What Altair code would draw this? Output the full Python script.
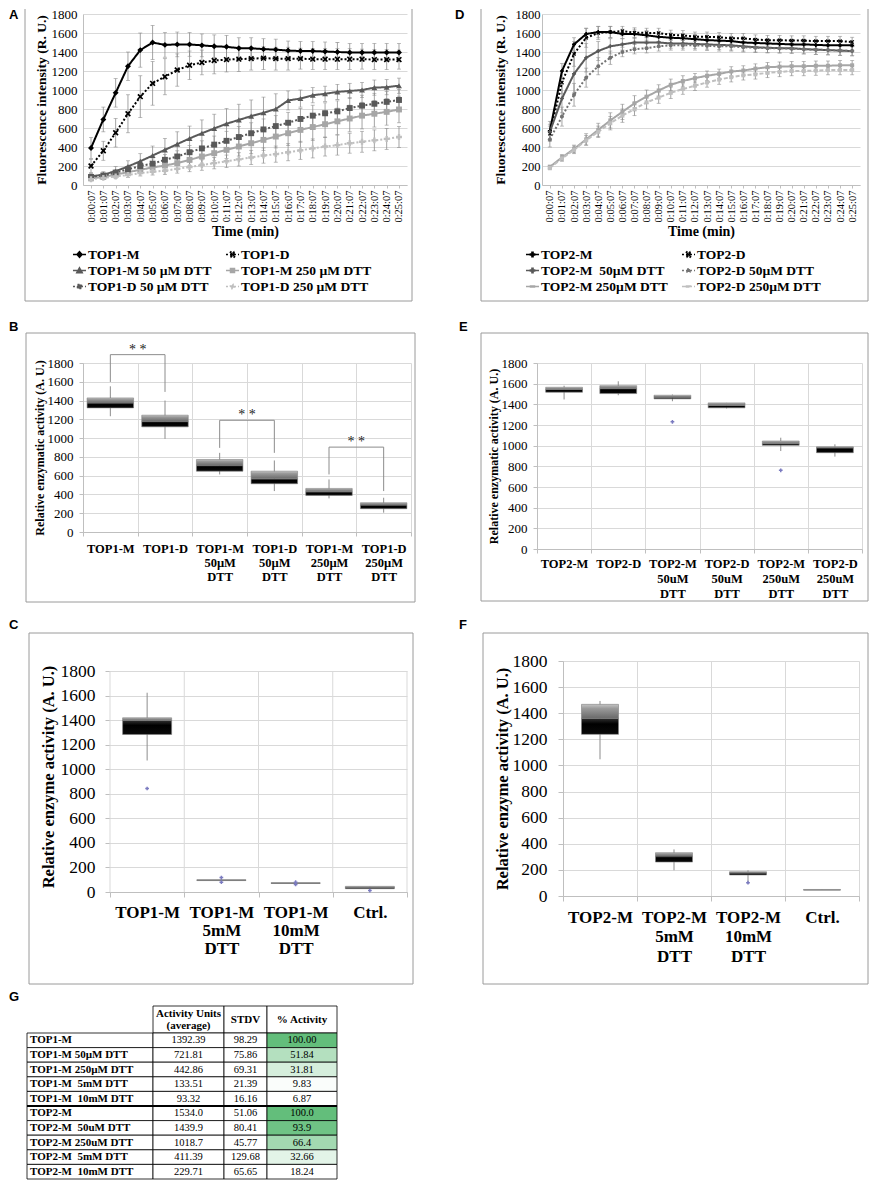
import altair as alt
import pandas as pd

SERIF = "Liberation Serif"
SANS = "Liberation Sans"
GRID = "#d9d9d9"
AXC = "#bfbfbf"
FRAME = "#9a9a9a"
ERRC = "#8c8c8c"
ONE = pd.DataFrame({"k": [0]})

time_labels = ["0:00:07", "0:01:07", "0:02:07", "0:03:07", "0:04:07", "0:05:07", "0:06:07",
               "0:07:07", "0:08:07", "0:09:07", "0:10:07", "0:11:07", "0:12:07", "0:13:07",
               "0:14:07", "0:15:07", "0:16:07", "0:17:07", "0:18:07", "0:19:07", "0:20:07",
               "0:21:07", "0:22:07", "0:23:07", "0:24:07", "0:25:07"]

# ---------------- Panel A ----------------
a_names = ["TOP1-M", "TOP1-D", "TOP1-M 50 µM DTT", "TOP1-M 250 µM DTT", "TOP1-D 50 µM DTT", "TOP1-D 250 µM DTT"]
a_legend_order = ["TOP1-M", "TOP1-M 50 µM DTT", "TOP1-D 50 µM DTT", "TOP1-D", "TOP1-M 250 µM DTT", "TOP1-D 250 µM DTT"]
a_top1_m = [390, 690, 970, 1250, 1420, 1500, 1475, 1480, 1480, 1470, 1460, 1455, 1440, 1440, 1430, 1425, 1415, 1410, 1410, 1405, 1400, 1395, 1395, 1395, 1395, 1395]
a_top1_d = [200, 360, 550, 750, 930, 1070, 1140, 1210, 1260, 1290, 1310, 1320, 1325, 1330, 1335, 1330, 1330, 1330, 1325, 1325, 1325, 1325, 1325, 1320, 1320, 1320]
a_top1_m50 = [90, 110, 145, 195, 250, 310, 370, 430, 490, 545, 595, 645, 685, 725, 760, 800, 890, 910, 945, 960, 980, 990, 1000, 1025, 1030, 1045]
a_top1_m250 = [70, 85, 110, 135, 160, 185, 205, 230, 265, 300, 335, 370, 405, 440, 475, 510, 545, 580, 610, 640, 670, 700, 730, 750, 770, 795]
a_top1_d50 = [85, 100, 130, 165, 200, 225, 265, 300, 345, 385, 425, 465, 505, 545, 585, 620, 655, 695, 730, 755, 775, 810, 835, 855, 875, 895]
a_top1_d250 = [60, 75, 90, 105, 125, 140, 150, 170, 190, 210, 230, 250, 270, 290, 310, 325, 345, 365, 385, 405, 420, 440, 455, 470, 485, 505]
a_top1_m_err = [110, 130, 150, 150, 180, 180, 130, 130, 125, 120, 120, 120, 110, 110, 110, 110, 100, 100, 100, 100, 100, 95, 95, 95, 95, 95]
a_top1_d_err = [70, 100, 150, 200, 220, 230, 190, 170, 150, 130, 140, 130, 130, 120, 120, 120, 120, 110, 110, 110, 110, 110, 105, 105, 105, 100]
a_top1_m50_err = [30, 30, 50, 60, 80, 100, 120, 130, 130, 140, 150, 160, 165, 170, 165, 160, 100, 90, 80, 80, 80, 80, 80, 80, 80, 80]
a_top1_m250_err = [15, 15, 20, 25, 30, 40, 45, 55, 60, 70, 80, 90, 100, 110, 110, 120, 130, 130, 140, 140, 140, 140, 140, 140, 140, 140]
a_top1_d50_err = [20, 25, 30, 35, 40, 50, 55, 60, 70, 80, 90, 100, 110, 110, 110, 110, 110, 110, 110, 110, 110, 110, 110, 110, 110, 110]
a_top1_d250_err = [15, 15, 20, 25, 30, 35, 40, 45, 50, 55, 60, 65, 70, 75, 80, 85, 90, 95, 100, 100, 105, 105, 110, 110, 110, 110]

# ---------------- Panel D ----------------
d_names = ["TOP2-M", "TOP2-D", "TOP2-M\u00a0 50µM DTT", "TOP2-D 50µM DTT", "TOP2-M 250µM DTT", "TOP2-D 250µM DTT"]
d_legend_order = ["TOP2-M", "TOP2-M\u00a0 50µM DTT", "TOP2-M 250µM DTT", "TOP2-D", "TOP2-D 50µM DTT", "TOP2-D 250µM DTT"]
d_top2_m = [570, 1200, 1480, 1590, 1610, 1610, 1590, 1590, 1575, 1560, 1550, 1545, 1535, 1525, 1520, 1515, 1500, 1495, 1490, 1485, 1480, 1480, 1475, 1470, 1470, 1470]
d_top2_d = [540, 1080, 1380, 1550, 1600, 1610, 1620, 1605, 1600, 1600, 1580, 1575, 1560, 1560, 1555, 1545, 1545, 1530, 1525, 1525, 1520, 1520, 1515, 1515, 1515, 1505]
d_top2_m50 = [560, 910, 1170, 1340, 1410, 1460, 1480, 1500, 1500, 1500, 1490, 1490, 1485, 1480, 1475, 1470, 1460, 1450, 1445, 1440, 1440, 1430, 1425, 1420, 1415, 1410]
d_top2_d50 = [480, 720, 950, 1130, 1250, 1340, 1400, 1430, 1440, 1460, 1470, 1470, 1470, 1465, 1460, 1460, 1450, 1445, 1440, 1440, 1435, 1430, 1425, 1420, 1415, 1410]
d_top2_m250 = [190, 290, 380, 480, 580, 680, 770, 860, 930, 995, 1055, 1095, 1125, 1150, 1170, 1195, 1205, 1225, 1240, 1245, 1250, 1250, 1255, 1255, 1260, 1260]
d_top2_d250 = [180, 280, 370, 470, 560, 650, 730, 800, 870, 920, 970, 1010, 1045, 1080, 1110, 1135, 1155, 1165, 1180, 1190, 1200, 1200, 1205, 1210, 1210, 1210]
d_top2_m_err = [100, 80, 70, 60, 60, 60, 50, 50, 50, 50, 50, 50, 50, 50, 50, 50, 50, 50, 50, 50, 50, 50, 50, 50, 50, 50]
d_top2_d_err = [80, 120, 130, 100, 70, 60, 50, 50, 50, 50, 50, 50, 50, 50, 50, 50, 50, 50, 50, 50, 50, 50, 50, 50, 50, 50]
d_top2_m50_err = [80, 150, 200, 150, 100, 80, 60, 50, 50, 50, 50, 50, 50, 50, 50, 50, 50, 50, 50, 50, 50, 50, 50, 50, 50, 50]
d_top2_d50_err = [80, 100, 120, 100, 90, 70, 50, 50, 50, 50, 50, 50, 50, 50, 50, 50, 50, 50, 50, 50, 50, 50, 50, 50, 50, 50]
d_top2_m250_err = [20, 30, 40, 60, 70, 80, 80, 80, 70, 60, 60, 55, 50, 50, 50, 50, 50, 50, 50, 50, 50, 50, 50, 50, 50, 50]
d_top2_d250_err = [20, 30, 40, 50, 60, 70, 70, 70, 70, 60, 60, 55, 50, 50, 50, 50, 50, 50, 50, 50, 50, 50, 50, 50, 50, 50]

# ---------------- Panel B ----------------
b_cats = ["TOP1-M", "TOP1-D", "TOP1-M|50µM|DTT", "TOP1-D|50µM|DTT", "TOP1-M|250µM|DTT", "TOP1-D|250µM|DTT"]
b_lo = [1233, 992, 613, 436, 358, 206]
b_q1 = [1322, 1120, 648, 514, 390, 248]
b_med = [1375, 1180, 712, 567, 429, 287]
b_q3 = [1428, 1244, 772, 648, 464, 312]
b_hi = [1552, 1400, 843, 762, 560, 365]
b_br_left = ["TOP1-M", "TOP1-M|50µM|DTT", "TOP1-M|250µM|DTT"]
b_br_right = ["TOP1-D", "TOP1-D|50µM|DTT", "TOP1-D|250µM|DTT"]
b_br_top = [1889, 1190, 904]
b_br_lo_left = [1598, 896, 613]
b_br_lo_right = [1492, 843, 436]

# ---------------- Panel E ----------------
e_cats = ["TOP2-M", "TOP2-D", "TOP2-M|50uM|DTT", "TOP2-D|50uM|DTT", "TOP2-M|250uM|DTT", "TOP2-D|250uM|DTT"]
e_lo = [1447, 1488, 1430, 1360, 948, 894]
e_q1 = [1517, 1504, 1453, 1366, 1003, 932]
e_med = [1543, 1553, 1469, 1389, 1019, 980]
e_q3 = [1565, 1581, 1488, 1414, 1045, 990]
e_hi = [1580, 1623, 1495, 1414, 1077, 1013]
e_out_cat = ["TOP2-M|50uM|DTT", "TOP2-M|250uM|DTT"]
e_out_val = [1231, 762]

# ---------------- Panel C ----------------
c_cats = ["TOP1-M", "TOP1-M|5mM|DTT", "TOP1-M|10mM|DTT", "Ctrl."]
c_lo = [1071, 85, 62, 22]
c_q1 = [1283, 93, 70, 27]
c_med = [1397, 97, 73, 38]
c_q3 = [1419, 100, 76, 46]
c_hi = [1623, 118, 82, 46]
c_out_cat = ["TOP1-M", "TOP1-M|5mM|DTT", "TOP1-M|5mM|DTT", "TOP1-M|10mM|DTT", "TOP1-M|10mM|DTT", "Ctrl."]
c_out_val = [843, 80, 118, 62, 80, 12]

# ---------------- Panel F ----------------
f_cats = ["TOP2-M", "TOP2-M|5mM|DTT", "TOP2-M|10mM|DTT", "Ctrl."]
f_lo = [1047, 197, 94, 46]
f_q1 = [1238, 260, 161, 46]
f_med = [1361, 306, 176, 46]
f_q3 = [1468, 332, 186, 50]
f_hi = [1494, 357, 197, 50]
f_out_cat = ["TOP2-M|10mM|DTT"]
f_out_val = [102]

# ---------------- Table G ----------------
tbl_rows = ["TOP1-M", "TOP1-M 50µM DTT", "TOP1-M 250µM DTT", "TOP1-M\u00a0 5mM DTT", "TOP1-M\u00a0 10mM DTT",
            "TOP2-M", "TOP2-M\u00a0 50uM DTT", "TOP2-M 250uM DTT", "TOP2-M\u00a0 5mM DTT", "TOP2-M\u00a0 10mM DTT"]
tbl_avg = ["1392.39", "721.81", "442.86", "133.51", "93.32", "1534.0", "1439.9", "1018.7", "411.39", "229.71"]
tbl_stdv = ["98.29", "75.86", "69.31", "21.39", "16.16", "51.06", "80.41", "45.77", "129.68", "65.65"]
tbl_pct = ["100.00", "51.84", "31.81", "9.83", "6.87", "100.0", "93.9", "66.4", "32.66", "18.24"]
tbl_group = ["TOP1", "TOP1", "TOP1", "TOP1", "TOP1", "TOP2", "TOP2", "TOP2", "TOP2", "TOP2"]

# ---------------- styles ----------------
X_PATH = "M-1,-0.6L-0.6,-1L0,-0.4L0.6,-1L1,-0.6L0.4,0L1,0.6L0.6,1L0,0.4L-0.6,1L-1,0.6L-0.4,0Z"
LEG_MARK = {
    "diamond": "M0,-0.42L0.38,0L0,0.42L-0.38,0Z",
    "x": "M-0.4,-0.25L-0.25,-0.4L0,-0.15L0.25,-0.4L0.4,-0.25L0.15,0L0.4,0.25L0.25,0.4L0,0.15L-0.25,0.4L-0.4,0.25L-0.15,0Z",
    "triangle": "M0,-0.4L0.4,0.32L-0.4,0.32Z",
    "square": "M-0.3,-0.3H0.3V0.3H-0.3Z",
    "cross": "M-0.32,-0.08H-0.08V-0.32H0.08V-0.08H0.32V0.08H0.08V0.32H-0.08V0.08H-0.32Z",
    "circle": "M-0.22,-0.22H0.22V0.22H-0.22Z",
    "dash": "M-0.3,-0.08H0.3V0.08H-0.3Z",
}


def leg_path(kind):
    return "M-1,0H1" + LEG_MARK[kind]


DARK_GRAD = alt.LinearGradient(gradient="linear", x1=0, x2=0, y1=0, y2=1,
                               stops=[alt.GradientStop(color="#303030", offset=0),
                                      alt.GradientStop(color="#000000", offset=0.35),
                                      alt.GradientStop(color="#0a0a0a", offset=1)])
LIGHT_GRAD = alt.LinearGradient(gradient="linear", x1=0, x2=0, y1=0, y2=1,
                                stops=[alt.GradientStop(color="#c4c4c4", offset=0),
                                       alt.GradientStop(color="#9a9a9a", offset=0.3),
                                       alt.GradientStop(color="#6a6a6a", offset=1)])
BOX_EDGE = "#808080"


def frame_rules(x1, x2, y1, y2):
    base = alt.Chart(ONE)
    return [
        base.mark_rule(color=FRAME, strokeWidth=1).encode(x=alt.value(x1), y=alt.value(y1), y2=alt.value(y2)),
        base.mark_rule(color=FRAME, strokeWidth=1).encode(x=alt.value(x2), y=alt.value(y1), y2=alt.value(y2)),
        base.mark_rule(color=FRAME, strokeWidth=1).encode(x=alt.value(x1), x2=alt.value(x2), y=alt.value(y2)),
    ]


def frame_box(x1, x2, y1, y2):
    return [alt.Chart(ONE).mark_rect(filled=False, stroke=FRAME, strokeWidth=1).encode(
        x=alt.value(x1), x2=alt.value(x2), y=alt.value(y1), y2=alt.value(y2))]


def letter(ch, x, y):
    return alt.Chart(ONE).mark_text(text=ch, font=SANS, fontSize=13, fontWeight="bold", align="left",
                                    baseline="top", fill="black").encode(x=alt.value(x), y=alt.value(y))


def anchor():
    # invisible tiny cell that pins the left edge of each row
    return alt.Chart(ONE).mark_rule(opacity=0).encode(
        x=alt.value(0), y=alt.value(0), y2=alt.value(0)).properties(width=1, height=1)


def line_panel(names, order, vals, errs, style, msize, w, h, yfs, ylpad, ytpad, legx, legy, extras):
    recs = []
    for n, vs, es in zip(names, vals, errs):
        for t, v, e in zip(time_labels, vs, es):
            recs.append({"t": t, "s": n, "v": v, "lo": v - e, "hi": v + e})
    df = pd.DataFrame(recs)
    colors = [style[n][0] for n in order]
    dashes = [style[n][1] for n in order]
    shapes = [style[n][2] for n in order]
    lshapes = [leg_path(style[n][3]) for n in order]
    xs = alt.Scale(type="point", padding=0.65, domain=time_labels)
    xax = alt.Axis(title="Time (min)", labelAngle=270, labelFont=SERIF, labelFontSize=10.5, labelColor="black",
                   labelOverlap=False, ticks=True, tickSize=3, tickColor=AXC, domainColor=AXC, labelPadding=2,
                   titleFont=SERIF, titleFontSize=14, titleFontWeight="bold", titleColor="black",
                   titlePadding=2, grid=False)
    ys = alt.Scale(domain=[0, 1800])
    yax = alt.Axis(title="Fluorescence intensity (R. U.)", values=list(range(0, 1801, 200)), format="d",
                   grid=True, gridColor=GRID, ticks=False, domainColor=AXC, labelFont=SERIF, labelFontSize=yfs,
                   labelColor="black", labelPadding=ylpad, titleFont=SERIF, titleFontSize=13.5,
                   titleFontWeight="bold", titleColor="black", titlePadding=ytpad)
    X = alt.X("t:O", scale=xs, axis=xax, sort=time_labels)

    def Y(f):
        return alt.Y(f + ":Q", scale=ys, axis=yax)

    cs = alt.Scale(domain=order, range=colors)
    ds = alt.Scale(domain=order, range=dashes)
    base = alt.Chart(df)
    err = base.mark_rule(color=ERRC, strokeWidth=0.8).encode(x=X, y=Y("lo"), y2="hi:Q")
    cap1 = base.mark_tick(color=ERRC, thickness=0.8, size=4).encode(x=X, y=Y("lo"))
    cap2 = base.mark_tick(color=ERRC, thickness=0.8, size=4).encode(x=X, y=Y("hi"))
    line = base.mark_line(strokeWidth=2).encode(
        x=X, y=Y("v"), color=alt.Color("s:N", scale=cs, legend=None),
        strokeDash=alt.StrokeDash("s:N", scale=ds, legend=None), detail="s:N")
    pts = base.mark_point(filled=True, opacity=1, size=msize).encode(
        x=X, y=Y("v"), color=alt.Color("s:N", scale=cs, legend=None),
        shape=alt.Shape("s:N", scale=alt.Scale(domain=order, range=shapes), legend=None))
    leg = alt.Legend(orient="none", legendX=legx, legendY=legy, columns=2, title=None,
                     labelFont=SERIF, labelFontSize=13.5, labelFontWeight="bold", labelColor="black",
                     labelLimit=400, symbolSize=170, symbolStrokeWidth=1.6, rowPadding=2,
                     columnPadding=10, labelOffset=1)
    legl = base.transform_filter("false").mark_point(filled=True, opacity=1, strokeWidth=1.6).encode(
        color=alt.Color("s:N", scale=cs, legend=leg),
        stroke=alt.Stroke("s:N", scale=cs, legend=leg),
        shape=alt.Shape("s:N", scale=alt.Scale(domain=order, range=lshapes), legend=leg),
        strokeDash=alt.StrokeDash("s:N", scale=ds, legend=leg))
    layers = extras + [err, cap1, cap2, line, pts, legl]
    return alt.layer(*layers).resolve_scale(
        color="independent", stroke="independent", shape="independent", strokeDash="independent"
    ).properties(width=w, height=h)


def box_panel(cats, lo, q1, med, q3, hi, w, h, band, yfs, ytitle, ytfs, ytick, ylpad, ytpad,
              xfs, xlh, xtick, xlpad, extras, out_cat=None, out_val=None, brackets=None, ymax=1800):
    df = pd.DataFrame({"c": cats, "lo": lo, "q1": q1, "med": med, "q3": q3, "hi": hi})
    df["g0"] = 0
    df["g1"] = 1800
    rule_grid = ymax > 1800
    xs = alt.Scale(domain=cats, paddingInner=0, paddingOuter=0)
    xax = alt.Axis(title=None, labelExpr="split(datum.label, '|')", labelAngle=0, labelFont=SERIF,
                   labelFontSize=xfs, labelFontWeight="bold", labelColor="black", labelLineHeight=xlh,
                   labelPadding=xlpad, tickBand="extent", ticks=True, tickSize=xtick, tickColor=AXC,
                   grid=not rule_grid, gridColor=GRID, domainColor=AXC)
    ys = alt.Scale(domain=[0, ymax], nice=False)
    yax = alt.Axis(title=ytitle, values=list(range(0, 1801, 200)), format="d", grid=True, gridColor=GRID,
                   ticks=True, tickSize=ytick, tickColor=AXC, domain=not rule_grid, domainColor=AXC,
                   labelFont=SERIF, labelFontSize=yfs, labelColor="black", labelPadding=ylpad,
                   titleFont=SERIF, titleFontSize=ytfs, titleFontWeight="bold", titleColor="black",
                   titlePadding=ytpad)

    def X(f, bp=None):
        if bp is None:
            return alt.X(f + ":N", scale=xs, axis=xax, sort=cats)
        return alt.X(f + ":N", scale=xs, axis=xax, sort=cats, bandPosition=bp)

    def Y(f):
        return alt.Y(f + ":Q", scale=ys, axis=yax)

    base = alt.Chart(df)
    layers = list(extras)
    if rule_grid:
        layers.append(base.mark_rule(color=GRID, strokeWidth=1).encode(x=X("c", 0), y=Y("g0"), y2="g1:Q"))
        layers.append(base.transform_filter(alt.datum.c == cats[-1]).mark_rule(color=GRID, strokeWidth=1).encode(
            x=X("c", 1), y=Y("g0"), y2="g1:Q"))
    whisk = base.mark_rule(color="#8c8c8c", strokeWidth=1).encode(x=X("c"), y=Y("lo"), y2="hi:Q")
    low = base.mark_bar(width=alt.RelativeBandSize(band=band), color=DARK_GRAD, stroke=BOX_EDGE,
                        strokeWidth=0.6).encode(x=X("c"), y=Y("q1"), y2="med:Q")
    up = base.mark_bar(width=alt.RelativeBandSize(band=band), color=LIGHT_GRAD, stroke=BOX_EDGE,
                       strokeWidth=0.6).encode(x=X("c"), y=Y("med"), y2="q3:Q")
    layers += [whisk, low, up]
    if out_cat:
        odf = pd.DataFrame({"c": out_cat, "v": out_val})
        layers.append(alt.Chart(odf).mark_point(shape="cross", filled=True, size=14, color="#7b7bc0",
                                                opacity=1).encode(x=X("c"), y=Y("v")))
    if brackets:
        bl, br, bt, bll, blr = brackets
        bdf = pd.DataFrame({"c1": bl, "c2": br, "top": bt, "l": bll, "r": blr})
        bb = alt.Chart(bdf)
        layers += [
            bb.mark_rule(color="#8c8c8c", strokeWidth=1).encode(x=X("c1"), y=Y("l"), y2="top:Q"),
            bb.mark_rule(color="#8c8c8c", strokeWidth=1).encode(x=X("c2"), y=Y("r"), y2="top:Q"),
            bb.mark_rule(color="#8c8c8c", strokeWidth=1).encode(x=X("c1"), x2="c2:N", y=Y("top")),
            bb.mark_text(text="* *", font=SERIF, fontSize=14, baseline="bottom",
                         dx=w / len(cats) / 2, dy=2, fill="#222222").encode(x=X("c1"), y=Y("top")),
        ]
    return alt.layer(*layers).properties(width=w, height=h)


# ---------------- build panels ----------------
a_style = {
    "TOP1-M": ("#000000", [1, 0], "diamond", "diamond"),
    "TOP1-D": ("#000000", [2, 2], X_PATH, "x"),
    "TOP1-M 50 µM DTT": ("#595959", [1, 0], "triangle-up", "triangle"),
    "TOP1-M 250 µM DTT": ("#a6a6a6", [1, 0], "square", "square"),
    "TOP1-D 50 µM DTT": ("#595959", [2, 2], "square", "square"),
    "TOP1-D 250 µM DTT": ("#bfbfbf", [2, 2], "cross", "cross"),
}
d_style = {
    "TOP2-M": ("#000000", [1, 0], "cross", "cross"),
    "TOP2-D": ("#000000", [2, 2], X_PATH, "x"),
    "TOP2-M\u00a0 50µM DTT": ("#595959", [1, 0], "cross", "cross"),
    "TOP2-D 50µM DTT": ("#737373", [2, 2], "circle", "circle"),
    "TOP2-M 250µM DTT": ("#a6a6a6", [1, 0], "square", "dash"),
    "TOP2-D 250µM DTT": ("#bfbfbf", [4, 2], "square", "dash"),
}

panel_a = line_panel(
    a_names, a_legend_order,
    [a_top1_m, a_top1_d, a_top1_m50, a_top1_m250, a_top1_d50, a_top1_d250],
    [a_top1_m_err, a_top1_d_err, a_top1_m50_err, a_top1_m250_err, a_top1_d50_err, a_top1_d250_err],
    a_style, 35, 324, 171, 13, 6, 3, -11, 233,
    frame_rules(-58, 329, -5, 287) + [letter("A", -74, -5)])

panel_d = line_panel(
    d_names, d_legend_order,
    [d_top2_m, d_top2_d, d_top2_m50, d_top2_d50, d_top2_m250, d_top2_d250],
    [d_top2_m_err, d_top2_d_err, d_top2_m50_err, d_top2_d50_err, d_top2_m250_err, d_top2_d250_err],
    d_style, 16, 318, 171, 12.5, 2, 8, -17, 233,
    frame_rules(-61, 326, -5, 287) + [letter("D", -87, -5)])

panel_b = box_panel(b_cats, b_lo, b_q1, b_med, b_q3, b_hi, 328, 169, 0.85, 13,
                    "Relative enzymatic activity (A. U.)", 12, 4, 6, 1, 12.5, 14, 4, 6,
                    frame_box(-57, 332, -30, 239) + [letter("B", -74, -42)],
                    brackets=(b_br_left, b_br_right, b_br_top, b_br_lo_left, b_br_lo_right))

panel_e = box_panel(e_cats, e_lo, e_q1, e_med, e_q3, e_hi, 325, 186, 0.68, 13,
                    "Relative enzymatic activity (A. U.)", 12, 4, 6, 1, 12.5, 15, 4, 4,
                    frame_box(-56, 331, -30, 238) + [letter("E", -78, -42)],
                    out_cat=e_out_cat, out_val=e_out_val)

panel_c = box_panel(c_cats, c_lo, c_q1, c_med, c_q3, c_hi, 297, 231, 0.66, 17.5,
                    "Relative enzyme activity (A. U.)", 16.5, 5, 10, 4, 17, 18, 5, 7,
                    frame_box(-81, 303, -28, 323) + [letter("C", -101, -42)],
                    out_cat=c_out_cat, out_val=c_out_val, ymax=1800 * 231 / 221)

panel_f = box_panel(f_cats, f_lo, f_q1, f_med, f_q3, f_hi, 296, 235, 0.5, 17.5,
                    "Relative enzyme activity (A. U.)", 16.5, 5, 11, 2, 17, 19.5, 5, 8,
                    frame_box(-80, 305, -28, 323) + [letter("F", -104, -42)],
                    out_cat=f_out_cat, out_val=f_out_val)

# ---------------- table ----------------
TW = [126, 71, 43, 70]
HEAD_H = 27
BODY_H = 146
tdf = pd.DataFrame({"r": list(range(len(tbl_rows))), "lab": tbl_rows, "avg": tbl_avg, "sd": tbl_stdv,
                    "pt": tbl_pct, "g": tbl_group})
ysc = alt.Scale(domain=list(range(len(tbl_rows))), paddingInner=0, paddingOuter=0)
YR = alt.Y("r:O", scale=ysc, axis=None)


def sep_rule(w):
    return alt.Chart(tdf).transform_filter("datum.r == 5").mark_rule(color="black", strokeWidth=2).encode(
        y=alt.Y("r:O", scale=ysc, axis=None, bandPosition=0), x=alt.value(0), x2=alt.value(w))


def header(w, txt, two_lines=False):
    rect = alt.Chart(ONE).mark_rect(fill="white", stroke="black", strokeWidth=0.8).encode(
        x=alt.value(0), x2=alt.value(w), y=alt.value(-HEAD_H), y2=alt.value(0))
    if two_lines:
        t = alt.Chart(ONE).mark_text(text=txt, font=SERIF, fontSize=11, fontWeight="bold", lineHeight=12,
                                     baseline="top", align="center", fill="black").encode(
            x=alt.value(w / 2), y=alt.value(-HEAD_H + 2))
    else:
        t = alt.Chart(ONE).mark_text(text=txt, font=SERIF, fontSize=11, fontWeight="bold",
                                     baseline="middle", align="center", fill="black").encode(
            x=alt.value(w / 2), y=alt.value(-HEAD_H / 2))
    return [rect, t]


def plain_cells(w):
    return alt.Chart(tdf).mark_rect(fill="white", stroke="black", strokeWidth=0.8).encode(
        y=YR, x=alt.value(0), x2=alt.value(w))


col1 = alt.layer(
    plain_cells(TW[0]),
    alt.Chart(tdf).mark_text(font=SERIF, fontSize=11, fontWeight="bold", align="left", fill="black").encode(
        y=YR, x=alt.value(3), text="lab:N"),
    sep_rule(TW[0]),
    letter("G", -18, -42),
).properties(width=TW[0], height=BODY_H)

col2 = alt.layer(
    *header(TW[1], ["Activity Units", "(average)"], two_lines=True),
    plain_cells(TW[1]),
    alt.Chart(tdf).mark_text(font=SERIF, fontSize=10.5, align="center", fill="black").encode(
        y=YR, x=alt.value(TW[1] / 2), text="avg:N"),
    sep_rule(TW[1]),
).properties(width=TW[1], height=BODY_H)

col3 = alt.layer(
    *header(TW[2], "STDV"),
    plain_cells(TW[2]),
    alt.Chart(tdf).mark_text(font=SERIF, fontSize=10.5, align="center", fill="black").encode(
        y=YR, x=alt.value(TW[2] / 2), text="sd:N"),
    sep_rule(TW[2]),
).properties(width=TW[2], height=BODY_H)

col4 = alt.layer(
    *header(TW[3], "% Activity"),
    alt.Chart(tdf).transform_calculate(p="toNumber(datum.pt)").transform_joinaggregate(
        mn="min(p)", groupby=["g"]).transform_calculate(
        nv="(datum.p - datum.mn) / (100 - datum.mn)").mark_rect(stroke="black", strokeWidth=0.8).encode(
        y=YR, x=alt.value(0), x2=alt.value(TW[3]),
        color=alt.Color("nv:Q", scale=alt.Scale(domain=[0, 1], range=["#ffffff", "#63be7b"],
                                                interpolate="rgb"), legend=None)),
    alt.Chart(tdf).mark_text(font=SERIF, fontSize=10.5, align="center", fill="black").encode(
        y=YR, x=alt.value(TW[3] / 2), text="pt:N"),
    sep_rule(TW[3]),
).properties(width=TW[3], height=BODY_H)

table = alt.hconcat(col1, col2, col3, col4, spacing=0, bounds="flush")

# ---------------- assemble ----------------
row1 = alt.hconcat(anchor(), alt.hconcat(panel_a, panel_d, spacing=42), spacing=0)
row2 = alt.hconcat(anchor(), alt.hconcat(panel_b, panel_e, spacing=43), spacing=0)
row3 = alt.hconcat(anchor(), alt.hconcat(panel_c, panel_f, spacing=45), spacing=0)
row4 = alt.hconcat(anchor(), table, spacing=0)

top12 = alt.vconcat(row1, row2, spacing=19)
top123 = alt.vconcat(top12, row3, spacing=16)

chart = alt.vconcat(top123, row4, spacing=6).properties(padding=0).configure_view(
    stroke=None).configure_text(font=SERIF)

chart.save("out.html", embed_options={"renderer": "svg", "actions": False})
